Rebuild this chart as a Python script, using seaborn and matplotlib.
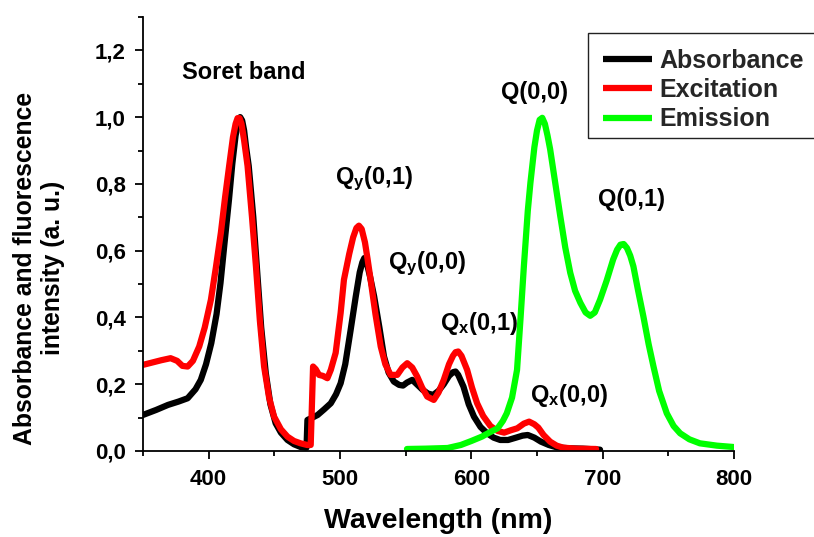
import matplotlib
matplotlib.use("Agg")
import matplotlib.pyplot as plt
import seaborn as sns
import pandas as pd
from matplotlib.ticker import MultipleLocator, FuncFormatter
from matplotlib.patches import Rectangle

# ---------------- data ----------------
abs_wl = [350, 360, 369, 377, 384, 390, 394, 398, 402, 406, 409, 412, 415.5, 418, 420.5, 422.5,
          424, 425.5, 427, 428.5, 430.5, 434, 437, 440, 443.5, 447, 451, 455, 460, 465, 470, 474.5,
          475.2, 479, 483, 488, 493, 497, 500.5, 504, 508, 512, 515, 517, 518.5, 520, 523, 526, 530,
          533.5, 537, 541, 545, 548, 551, 555, 559, 563, 567, 571, 575, 579, 583, 586, 588, 590,
          594, 598, 602, 607, 612, 617, 622, 628, 634, 639, 643, 648, 653, 659, 665, 675, 685, 698]
abs_val = [0.108, 0.123, 0.138, 0.148, 0.158, 0.185, 0.213, 0.26, 0.323, 0.41, 0.503, 0.62, 0.754,
           0.86, 0.945, 0.985, 1.0, 0.99, 0.96, 0.91, 0.854, 0.70, 0.534, 0.37, 0.233, 0.14, 0.083,
           0.055, 0.033, 0.02, 0.012, 0.01, 0.093, 0.10, 0.108, 0.125, 0.143, 0.17, 0.203, 0.26,
           0.36, 0.463, 0.535, 0.565, 0.578, 0.57, 0.52, 0.463, 0.37, 0.283, 0.235, 0.208, 0.198,
           0.196, 0.205, 0.213, 0.198, 0.183, 0.172, 0.168, 0.18, 0.20, 0.225, 0.236, 0.238, 0.228,
           0.193, 0.14, 0.103, 0.072, 0.053, 0.04, 0.033, 0.033, 0.04, 0.046, 0.048, 0.04, 0.028,
           0.018, 0.011, 0.008, 0.007, 0.004]

exc_wl = [350, 357, 364, 371, 376, 380, 384, 388, 392.8, 397, 401.7, 405.5, 409.3, 412.5, 415.6,
          418.5, 420.5, 422, 423.5, 425, 427, 429.6, 433, 436, 439, 442.2, 446, 449.8, 455, 460, 465,
          470, 475, 477.7, 479.5, 481.5, 484, 487, 490.4, 493, 496.7, 500.5, 503, 507, 510, 512.5,
          514.4, 516.5, 519, 521, 523.3, 527, 531, 534.5, 538.5, 543.6, 547.5, 551.2, 555, 558.8,
          562.5, 566.4, 571.4, 575, 579, 583, 586, 588, 590, 592.5, 596.8, 600.5, 604.4, 609, 614.5,
          620, 625, 630, 635, 640, 644, 648, 651, 655, 660, 665, 670, 680, 695]
exc_val = [0.258, 0.265, 0.272, 0.278, 0.27, 0.255, 0.253, 0.27, 0.313, 0.37, 0.453, 0.55, 0.654,
           0.76, 0.854, 0.94, 0.98, 0.997, 0.997, 0.98, 0.93, 0.854, 0.70, 0.553, 0.39, 0.253, 0.16,
           0.103, 0.065, 0.043, 0.03, 0.023, 0.018, 0.018, 0.253, 0.245, 0.228, 0.225, 0.218,
           0.243, 0.294, 0.414, 0.513, 0.59, 0.64, 0.668, 0.675, 0.665, 0.625, 0.575, 0.513, 0.41,
           0.313, 0.26, 0.228, 0.228, 0.25, 0.263, 0.25, 0.223, 0.19, 0.163, 0.153, 0.175, 0.213,
           0.26, 0.285, 0.296, 0.298, 0.285, 0.243, 0.19, 0.143, 0.105, 0.075, 0.06, 0.055, 0.062,
           0.068, 0.082, 0.088, 0.08, 0.07, 0.048, 0.028, 0.016, 0.01, 0.007, 0.006]

emi_wl = [551, 565, 582, 592, 600, 608, 615, 620, 624, 627, 631, 634.8, 637.5, 640, 643, 645, 648,
          650, 652, 654, 656, 658, 660, 664, 667.7, 671.5, 675.3, 679, 683, 687, 690.5, 694, 698, 703,
          708, 711, 713.5, 716, 718.5, 721, 723.4, 727, 731, 735, 738.7, 743, 748.8, 754, 759, 766,
          774, 787, 799.5]
emi_val = [0.006, 0.007, 0.009, 0.018, 0.03, 0.043, 0.058, 0.068, 0.09, 0.113, 0.16, 0.243, 0.4,
           0.553, 0.72, 0.804, 0.91, 0.96, 0.992, 0.998, 0.98, 0.945, 0.904, 0.8, 0.704, 0.61,
           0.534, 0.48, 0.444, 0.415, 0.405, 0.415, 0.453, 0.51, 0.574, 0.603, 0.618, 0.62, 0.608,
           0.585, 0.553, 0.48, 0.403, 0.32, 0.253, 0.18, 0.113, 0.075, 0.053, 0.035, 0.023, 0.016,
           0.012]

series_names = ["Absorbance", "Excitation", "Emission"]
series_colors = ["#000000", "#ff0000", "#00ff00"]

peak_labels = ["Soret band", r"Q$_{y}$(0,1)", r"Q$_{y}$(0,0)", r"Q$_{x}$(0,1)",
               r"Q$_{x}$(0,0)", "Q(0,0)", "Q(0,1)"]
peak_label_x = [379.4, 495.9, 536.5, 576.5, 644.4, 622.6, 696.1]
peak_label_y = [1.114, 0.799, 0.546, 0.363, 0.148, 1.054, 0.734]

x_ticks = [400, 500, 600, 700, 800]
y_ticks = [0.0, 0.2, 0.4, 0.6, 0.8, 1.0, 1.2]

# ---------------- style ----------------
sns.set_style("ticks")
plt.rcParams["font.family"] = ["Liberation Sans", "DejaVu Sans"]
plt.rcParams["font.weight"] = "bold"
plt.rcParams["mathtext.fontset"] = "custom"
plt.rcParams["mathtext.bf"] = "Liberation Sans:bold"
plt.rcParams["mathtext.rm"] = "Liberation Sans:bold"
plt.rcParams["mathtext.it"] = "Liberation Sans:bold"
plt.rcParams["mathtext.default"] = "bf"
plt.rcParams["lines.solid_joinstyle"] = "round"
plt.rcParams["lines.solid_capstyle"] = "round"

W, H = 814, 537
fig = plt.figure(figsize=(W / 100, H / 100), dpi=100)
ax = fig.add_axes([143 / W, 86 / H, 591 / W, 434 / H])

frames = []
for name, wl, val in [("Absorbance", abs_wl, abs_val),
                      ("Excitation", exc_wl, exc_val),
                      ("Emission", emi_wl, emi_val)]:
    frames.append(pd.DataFrame({"wl": wl, "val": val, "series": name}))
df = pd.concat(frames, ignore_index=True)

sns.lineplot(data=df, x="wl", y="val", hue="series", hue_order=series_names,
             palette=series_colors, linewidth=4.5, sort=False, estimator=None,
             ax=ax, legend=True)

ax.set_xlim(350, 800)
ax.set_ylim(0, 1.3)
ax.set_xticks(x_ticks)
ax.xaxis.set_minor_locator(MultipleLocator(50))
ax.set_yticks(y_ticks)
ax.yaxis.set_minor_locator(MultipleLocator(0.1))
ax.yaxis.set_major_formatter(FuncFormatter(lambda v, p: f"{v:.1f}".replace(".", ",")))

for s in ["top", "right"]:
    ax.spines[s].set_visible(False)
for s in ["left", "bottom"]:
    ax.spines[s].set_linewidth(1.3)
    ax.spines[s].set_color("black")

ax.tick_params(which="major", direction="out", length=6, width=1.3, color="black",
               labelsize=16, labelcolor="black")
ax.tick_params(which="minor", direction="out", length=3.5, width=1.3, color="black")
ax.tick_params(axis="y", pad=6.5)
ax.tick_params(axis="x", pad=7)
for lab in ax.get_xticklabels() + ax.get_yticklabels():
    lab.set_fontweight("bold")

ax.set_xlabel("Wavelength (nm)", fontsize=20.5, fontweight="bold", color="black")
ax.set_ylabel("Absorbance and fluorescence\nintensity (a. u.)", fontsize=17.8,
              fontweight="bold", color="black", linespacing=1.2)
ax.xaxis.set_label_coords(0.5, -(521 - 451) / 434)
ax.xaxis.label.set_va("center")
ax.yaxis.set_label_coords((39 - 143) / 591, (451 - 268) / 434)
ax.yaxis.label.set_va("center")

for t, lx, ly in zip(peak_labels, peak_label_x, peak_label_y):
    ax.text(lx, ly, t, fontsize=17, fontweight="bold", ha="left", va="baseline", color="black")

# legend content (frame drawn separately so that it runs off the right edge like the original)
leg = ax.legend(loc="upper left", bbox_to_anchor=(590.5 / W, 1 - 36 / H),
                bbox_transform=fig.transFigure, borderaxespad=0, frameon=False,
                fontsize=18, handlelength=1.96, handletextpad=0.3, labelspacing=0.22,
                borderpad=0.5, title=None)
for txt in leg.get_texts():
    txt.set_fontweight("bold")
for h in leg.get_lines():
    h.set_linewidth(4.5)
    h.set_solid_capstyle("butt")

box = Rectangle((588 / W, 1 - 138 / H), (830 - 588) / W, (138 - 33) / H,
                transform=fig.transFigure, fill=False, edgecolor="#222222",
                linewidth=1.0, clip_on=False, zorder=3)
fig.add_artist(box)

fig.savefig("out.png", dpi=100)
